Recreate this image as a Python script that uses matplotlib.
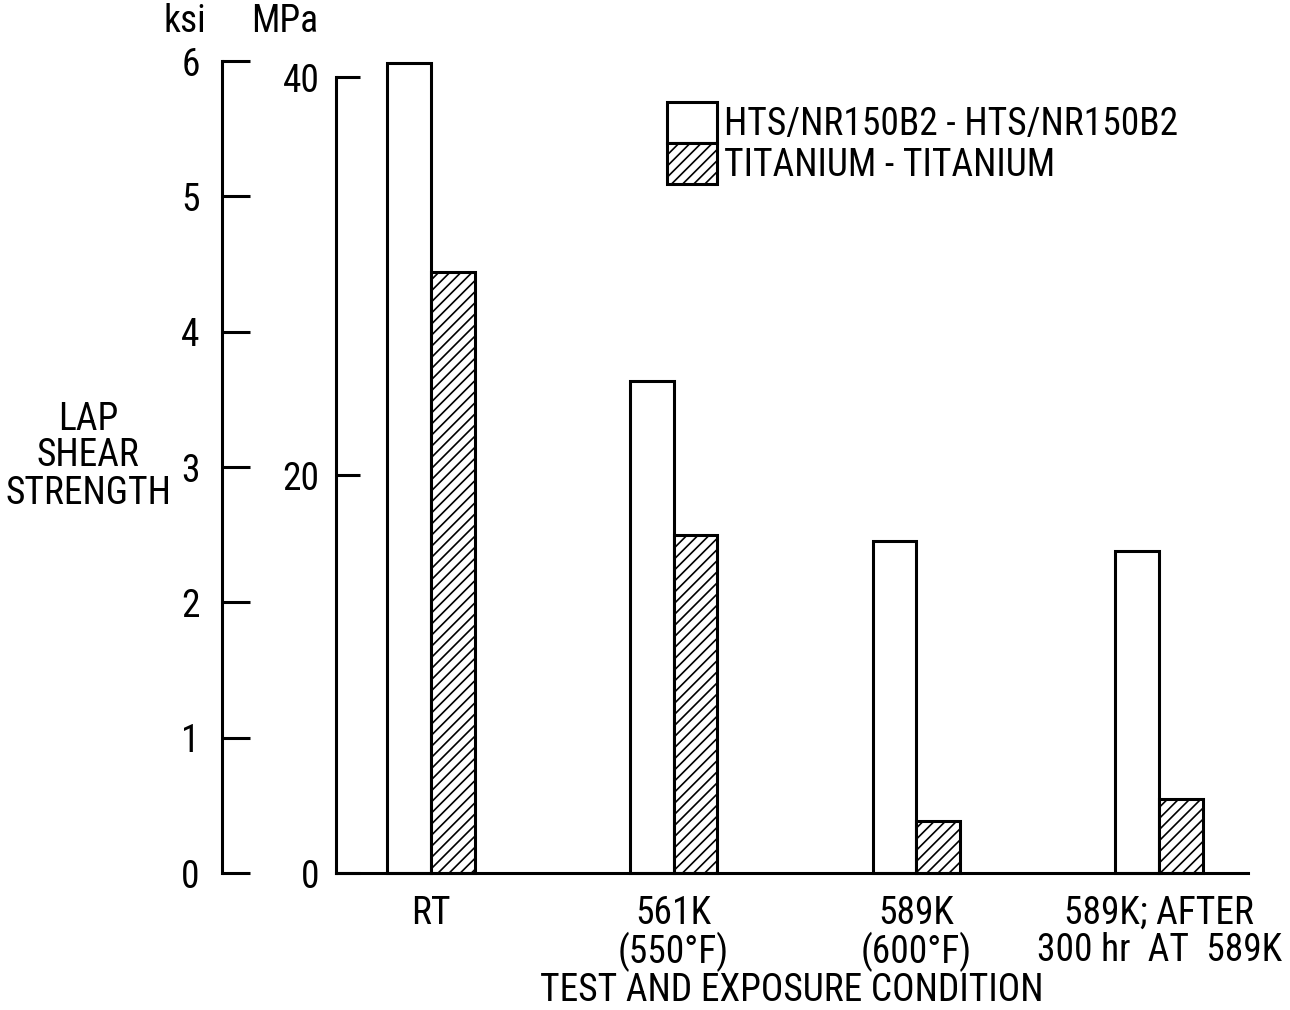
import numpy as np
import matplotlib.pyplot as plt
from matplotlib.patches import Patch

# lap shear strength, MPa
conditions = ["RT", "561K\n(550°F)", "589K\n(600°F)", "589K; AFTER\n300 hr  AT  589K"]
hts_mpa = [40.7, 24.7, 16.7, 16.2]
ti_mpa = [30.2, 17.0, 2.6, 3.7]
series_labels = ["HTS/NR150B2 - HTS/NR150B2", "TITANIUM - TITANIUM"]
ksi_ticks = [0, 1, 2, 3, 4, 5, 6]
mpa_ticks = [0, 20, 40]

plt.rcParams['font.family'] = ['Roboto Condensed', 'PT Sans Narrow', 'Archivo Narrow', 'DejaVu Sans']
plt.rcParams['hatch.linewidth'] = 1.2
FS = 27
LW = 2.2

fig = plt.figure(figsize=(12.9, 10.1), dpi=100)
W, H = 1290, 1010
bottom = 1 - 873 / H
top = 1 - 61 / H
ax = fig.add_axes([336 / W, bottom, (1248 - 336) / W, top - bottom])

x = np.arange(len(conditions))
width = 0.18
ax.bar(x - width / 2, hts_mpa, width, facecolor='white', edgecolor='black',
       linewidth=LW, clip_on=False)
ax.bar(x + width / 2, ti_mpa, width, facecolor='white', edgecolor='black',
       linewidth=LW, hatch='///', clip_on=False)

ax.set_xlim(-0.391, 3.366)
ax.set_ylim(0, 40 * 812 / 796)
for s in ['top', 'right']:
    ax.spines[s].set_visible(False)
ax.spines['left'].set_bounds(0, 40)
ax.spines['left'].set_linewidth(LW)
ax.spines['bottom'].set_linewidth(LW)
ax.set_yticks(mpa_ticks)
ax.tick_params(axis='y', direction='in', length=17, width=LW, pad=12, labelsize=FS)
ax.set_xticks(x)
ax.set_xticklabels(conditions, fontsize=FS, linespacing=1.0)
ax.tick_params(axis='x', length=0, pad=16)
ax.set_xlabel("TEST AND EXPOSURE CONDITION", fontsize=FS, labelpad=0)

# ksi axis
axk = fig.add_axes([222 / W, bottom, 0.0001, top - bottom])
axk.set_ylim(0, 6)
axk.set_xticks([])
for s in ['top', 'right', 'bottom']:
    axk.spines[s].set_visible(False)
axk.spines['left'].set_linewidth(LW)
axk.set_yticks(ksi_ticks)
axk.tick_params(axis='y', direction='in', length=20, width=LW, pad=16, labelsize=FS)
axk.patch.set_visible(False)

fig.text(185 / W, 1 - 22 / H, "ksi", fontsize=FS, ha='center', va='center')
fig.text(285 / W, 1 - 22 / H, "MPa", fontsize=FS, ha='center', va='center')
fig.text(88 / W, 1 - 456 / H, "LAP\nSHEAR\nSTRENGTH", fontsize=FS, ha='center',
         va='center', linespacing=1.0)

handles = [Patch(facecolor='white', edgecolor='black', linewidth=LW),
           Patch(facecolor='white', edgecolor='black', linewidth=LW, hatch='///')]
fig.legend(handles, series_labels, loc='upper left',
           bbox_to_anchor=(667 / W, 1 - 102 / H), frameon=False, fontsize=FS,
           handlelength=1.33, handleheight=1.3, labelspacing=0.0,
           handletextpad=0.2, borderpad=0, borderaxespad=0)

fig.savefig("out.png", dpi=100)
